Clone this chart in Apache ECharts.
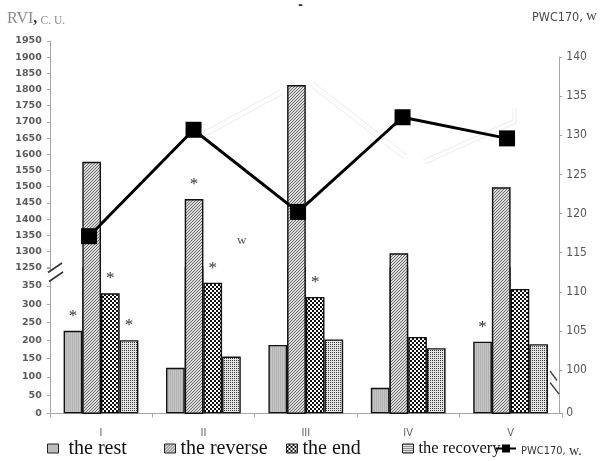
<!DOCTYPE html>
<html>
<head>
<meta charset="utf-8">
<script src="https://cdn.jsdelivr.net/npm/echarts@6/dist/echarts.min.js"></script>
<style>
  html, body { margin: 0; padding: 0; background: #fff; }
  #chart { width: 602px; height: 461px; }
</style>
</head>
<body>
<div id="chart"></div>
<script>
// Stages of the test
const categories = ['I', 'II', 'III', 'IV', 'V'];

// RVI, c.u. for each test state
const restValues = [227, 125, 188, 70, 197];
const reverseValues = [1577, 1462, 1814, 1294, 1498];
const endValues = [330, 359, 320, 210, 342];
const recoveryValues = [201, 156, 203, 179, 190];

// PWC170, W
const pwcValues = [117.1, 130.7, 120.2, 132.3, 129.6];

// Significant differences (1 = asterisk over the bar)
const restStars = [1, 0, 0, 0, 1];
const reverseStars = [0, 1, 0, 0, 0];
const endStars = [1, 1, 1, 0, 0];
const recoveryStars = [1, 0, 0, 0, 0];

// Tick labels of the broken RVI axis and of the PWC170 axis
const rviLowTicks = [0, 50, 100, 150, 200, 250, 300, 350];
const rviHighTicks = [1250, 1300, 1350, 1400, 1450, 1500, 1550, 1600, 1650, 1700, 1750, 1800, 1850, 1900, 1950];
const pwcTicks = [100, 105, 110, 115, 120, 125, 130, 135, 140];
const pwcBaseTick = 0;

const seriesNames = ['the rest', 'the reverse', 'the end', 'the recovery'];
const lineName = 'PWC170, w.';

const NARROW = "'Liberation Sans Narrow', 'DejaVu Sans Condensed', 'Arial Narrow', 'Liberation Sans', sans-serif";
const SERIF = "'Liberation Serif', 'DejaVu Serif', serif";

// ---- fill patterns for the bars ----
function pattern(size, draw) {
  const c = document.createElement('canvas');
  c.width = size; c.height = size;
  const ctx = c.getContext('2d');
  draw(ctx, size);
  return { image: c, repeat: 'repeat' };
}
const restFill = pattern(2, (ctx) => {
  ctx.fillStyle = '#c6c6c6'; ctx.fillRect(0, 0, 2, 2);
  ctx.fillStyle = '#b2b2b2'; ctx.fillRect(0, 0, 1, 2);
});
const reverseFill = pattern(3, (ctx) => {
  ctx.fillStyle = '#dcdcdc'; ctx.fillRect(0, 0, 3, 3);
  ctx.fillStyle = '#6a6a6a';
  for (let i = 0; i < 3; i++) ctx.fillRect(i, 2 - i, 1, 1);
});
const endFill = pattern(4, (ctx) => {
  ctx.fillStyle = '#111'; ctx.fillRect(0, 0, 4, 4);
  ctx.fillStyle = '#fff';
  ctx.fillRect(0, 0, 2, 2); ctx.fillRect(2, 2, 2, 2);
});
const recoveryFill = pattern(2, (ctx) => {
  ctx.fillStyle = '#e4e4e4'; ctx.fillRect(0, 0, 2, 2);
  ctx.fillStyle = '#3a3a3a'; ctx.fillRect(0, 0, 1, 1);
});
const fills = [restFill, reverseFill, endFill, recoveryFill];
const values = [restValues, reverseValues, endValues, recoveryValues];
const stars = [restStars, reverseStars, endStars, recoveryStars];

function withStars(vals, marks) {
  return vals.map((v, i) => marks[i] ? { value: v, label: { show: true } } : v);
}

const starLabel = {
  show: false, position: 'top', distance: 6, formatter: '*',
  fontFamily: SERIF, fontSize: 17, color: '#333'
};

const axisGray = '#a6a6a6';
const step = (arr) => arr[1] - arr[0];

// Bars of the lower part (grid 0) and of the upper part (grid 2).
// The reverse bars rise through the break, so they are drawn in the tall grid.
const barSeries = [];
seriesNames.forEach((name, k) => {
  const common = {
    name, type: 'bar', barGap: '0%', barCategoryGap: '27%',
    itemStyle: { color: fills[k], borderColor: '#111', borderWidth: 1.4 },
    label: starLabel, emphasis: { disabled: true }
  };
  barSeries.push(Object.assign({}, common, {
    xAxisIndex: 0, yAxisIndex: 0, z: 2,
    data: k === 1 ? values[k] : withStars(values[k], stars[k])
  }));
  barSeries.push(Object.assign({}, common, {
    xAxisIndex: 2, yAxisIndex: 2, z: 3,
    data: k === 1 ? withStars(values[k], stars[k]) : values[k]
  }));
});

const valueLabel = {
  margin: 8, fontFamily: 'DejaVu Sans', fontWeight: 'bold', fontSize: 9.5, color: '#5a5a5a'
};
const narrowLabel = {
  margin: 7, fontFamily: NARROW, fontSize: 12, color: '#555'
};

const lowTop = rviLowTicks[rviLowTicks.length - 1];
const highTop = rviHighTicks[rviHighTicks.length - 1];

function legendItem(name, left, fontSize, formatter) {
  const item = {
    data: [name], left, top: 438.5, padding: 0, selectedMode: false,
    icon: 'rect', itemWidth: 11, itemHeight: 9,
    itemStyle: { borderColor: '#222', borderWidth: 1 },
    textStyle: { fontFamily: SERIF, fontSize, color: '#111', lineHeight: 20 }
  };
  if (formatter) item.formatter = formatter;
  return item;
}

const option = {
  animation: false,
  backgroundColor: '#fff',
  grid: [
    { left: 49.8, right: 40.2, top: 267.8, height: 145.5, outerBoundsMode: 'none' },
    { left: 49.8, right: 40.2, top: 41, height: 226.6, outerBoundsMode: 'none' },
    { left: 49.8, right: 40.2, top: 41, height: 372.3, outerBoundsMode: 'none' },
    { left: 36.8, right: 42.7, top: 57, height: 313, outerBoundsMode: 'none' },
    { left: 36.8, right: 42.7, top: 370, height: 43.3, outerBoundsMode: 'none' }
  ],
  xAxis: [
    {
      gridIndex: 0, type: 'category', data: categories, boundaryGap: true,
      axisLine: { show: true, lineStyle: { color: axisGray, width: 1 } },
      axisTick: { show: true, alignWithLabel: false, length: 4, lineStyle: { color: axisGray } },
      axisLabel: { margin: 14, fontFamily: NARROW, fontSize: 11, color: '#666' },
      splitLine: { show: false }
    },
    { gridIndex: 1, type: 'category', data: categories, show: false },
    { gridIndex: 2, type: 'category', data: categories, show: false },
    { gridIndex: 3, type: 'category', data: categories, show: false },
    { gridIndex: 4, type: 'category', data: categories, show: false }
  ],
  yAxis: [
    {
      // lower part of RVI axis, extended up to the break
      gridIndex: 0, type: 'value', min: rviLowTicks[0], max: lowTop + step(rviLowTicks),
      interval: step(rviLowTicks),
      axisLine: { show: true, lineStyle: { color: axisGray } },
      axisTick: { show: true, length: 3, lineStyle: { color: axisGray } },
      splitLine: { show: false },
      axisLabel: Object.assign({}, valueLabel, { formatter: (v) => v <= lowTop ? String(v) : '' })
    },
    {
      // upper part of RVI axis
      gridIndex: 1, type: 'value', min: rviHighTicks[0], max: highTop, interval: step(rviHighTicks),
      axisLine: { show: true, lineStyle: { color: axisGray } },
      axisTick: { show: true, length: 3, lineStyle: { color: axisGray } },
      splitLine: { show: false },
      axisLabel: Object.assign({}, valueLabel, { formatter: (v) => String(v) })
    },
    {
      // scale of the tall bars (same unit length as the upper part)
      gridIndex: 2, type: 'value', min: 800, max: highTop, interval: step(rviHighTicks), show: false,
      splitLine: { show: false }
    },
    {
      gridIndex: 3, type: 'value', position: 'right',
      min: pwcTicks[0], max: pwcTicks[pwcTicks.length - 1], interval: step(pwcTicks),
      axisLine: { show: true, lineStyle: { color: axisGray } },
      axisTick: { show: true, length: 3, lineStyle: { color: axisGray } },
      splitLine: { show: false },
      axisLabel: Object.assign({}, narrowLabel, { formatter: (v) => String(v) })
    },
    {
      gridIndex: 4, type: 'value', position: 'right',
      min: pwcBaseTick, max: pwcTicks[0], interval: pwcTicks[0] - pwcBaseTick,
      axisLine: { show: true, lineStyle: { color: axisGray } },
      axisTick: { show: true, length: 3, lineStyle: { color: axisGray } },
      splitLine: { show: false },
      axisLabel: Object.assign({}, narrowLabel, { formatter: (v) => v === pwcBaseTick ? String(v) : '' })
    }
  ],
  legend: [
    legendItem(seriesNames[0], 47, 20, (n) => ' ' + n),
    legendItem(seriesNames[1], 164, 20),
    legendItem(seriesNames[2], 286, 20),
    legendItem(seriesNames[3], 402, 16.5),
    {
      data: [lineName], left: 495, top: 438.5, padding: 0, selectedMode: false,
      itemWidth: 20, itemHeight: 10,
      formatter: () => '{a|PWC170,} {b|w.}',
      textStyle: {
        lineHeight: 20,
        rich: {
          a: { fontFamily: NARROW, fontSize: 11, color: '#333', lineHeight: 20, verticalAlign: 'bottom', padding: [0, 0, 2, 0] },
          b: { fontFamily: SERIF, fontSize: 14, color: '#333', lineHeight: 20, verticalAlign: 'bottom' }
        }
      }
    }
  ],
  series: barSeries.concat([
    {
      name: lineName, type: 'line', xAxisIndex: 3, yAxisIndex: 3, z: 10,
      data: pwcValues, symbol: 'rect', symbolSize: 16,
      lineStyle: { color: '#000', width: 3 },
      itemStyle: { color: '#000' },
      emphasis: { disabled: true }
    }
  ]),
  graphic: [
    // faint background traces
    { type: 'polyline', z: -1, silent: true, shape: { points: [[203, 132], [280, 90]] }, style: { stroke: '#ececec', lineWidth: 1, fill: null } },
    { type: 'polyline', z: -1, silent: true, shape: { points: [[206, 136], [283, 94]] }, style: { stroke: '#ececec', lineWidth: 1, fill: null } },
    { type: 'polyline', z: -1, silent: true, shape: { points: [[313, 82], [407, 155]] }, style: { stroke: '#ececec', lineWidth: 1, fill: null } },
    { type: 'polyline', z: -1, silent: true, shape: { points: [[310, 86], [404, 159]] }, style: { stroke: '#ececec', lineWidth: 1, fill: null } },
    { type: 'polyline', z: -1, silent: true, shape: { points: [[423, 160], [513, 120], [513, 108]] }, style: { stroke: '#ececec', lineWidth: 1, fill: null } },
    { type: 'polyline', z: -1, silent: true, shape: { points: [[425, 164], [516, 123], [516, 108]] }, style: { stroke: '#ececec', lineWidth: 1, fill: null } },
    // axis break marks
    { type: 'rect', z: 50, silent: true, shape: { x: 47, y: 270.5, width: 6, height: 10 }, style: { fill: '#fff' } },
    { type: 'line', z: 51, silent: true, shape: { x1: 48, y1: 272.5, x2: 62, y2: 263 }, style: { stroke: '#333', lineWidth: 1.6 } },
    { type: 'line', z: 51, silent: true, shape: { x1: 49, y1: 281.5, x2: 63, y2: 272 }, style: { stroke: '#333', lineWidth: 1.6 } },
    { type: 'line', z: 51, silent: true, shape: { x1: 550, y1: 371, x2: 557, y2: 380.5 }, style: { stroke: '#444', lineWidth: 1.4 } },
    { type: 'line', z: 51, silent: true, shape: { x1: 550, y1: 382.5, x2: 559, y2: 394 }, style: { stroke: '#444', lineWidth: 1.4 } },
    // axis titles and stray marks
    {
      type: 'text', left: 7, top: 11, z: 60, silent: true,
      style: {
        text: '{a|RVI}{b|,} {c|C. U.}',
        rich: {
          a: { fontFamily: SERIF, fontSize: 16, fill: '#8a8a8a', verticalAlign: 'bottom', lineHeight: 18 },
          b: { fontFamily: SERIF, fontSize: 16, fontWeight: 'bold', fill: '#333', verticalAlign: 'bottom', lineHeight: 18 },
          c: { fontFamily: SERIF, fontSize: 11.5, fill: '#8a8a8a', verticalAlign: 'bottom', lineHeight: 18 }
        }
      }
    },
    {
      type: 'text', left: 532, top: 9, z: 60, silent: true,
      style: {
        text: '{a|PWC170,} {b|w}',
        rich: {
          a: { fontFamily: NARROW, fontSize: 12.5, fill: '#4a4a4a', verticalAlign: 'bottom', lineHeight: 16 },
          b: { fontFamily: SERIF, fontSize: 15, fill: '#4a4a4a', verticalAlign: 'bottom', lineHeight: 16 }
        }
      }
    },
    { type: 'text', left: 298, top: 0, z: 60, silent: true, style: { text: '-', fontFamily: 'DejaVu Sans', fontSize: 12, fontWeight: 'bold', fill: '#333' } },
    { type: 'text', left: 237, top: 234, z: 60, silent: true, style: { text: 'w', fontFamily: SERIF, fontSize: 13, fill: '#555' } }
  ]
};

const chart = echarts.init(document.getElementById('chart'), null, { renderer: 'canvas' });
chart.setOption(option);
</script>
</body>
</html>
